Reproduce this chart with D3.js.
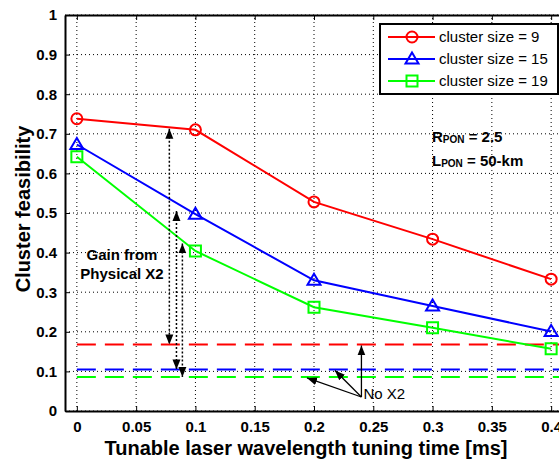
<!DOCTYPE html>
<html>
<head>
  <meta charset="utf8">
  <script src="https://d3js.org/d3.v7.min.js"></script>
  <style>
    body { margin: 0; background: #fff; }
    text { font-family: Arial, "Liberation Sans", sans-serif; }
    .tick text { font-weight: bold; font-size: 15px; fill: #000; }
  </style>
</head>
<body>
  <svg id="chart" width="559" height="461"></svg>
  <script>
    var times = [0, 0.1, 0.2, 0.3, 0.4];
    var size9 = [0.738, 0.710, 0.528, 0.434, 0.333];
    var size15 = [0.673, 0.497, 0.330, 0.265, 0.201];
    var size19 = [0.642, 0.404, 0.262, 0.210, 0.157];
    var noX2 = [0.168, 0.105, 0.086];
    var seriesNames = ['cluster size = 9', 'cluster size = 15', 'cluster size = 19'];
    var colors = ['#ff0000', '#0000ff', '#00ff00'];
    var markers = ['circle', 'triangle', 'square'];
    var xTicks = [0, 0.05, 0.1, 0.15, 0.2, 0.25, 0.3, 0.35, 0.4];
    var yTicks = [0, 0.1, 0.2, 0.3, 0.4, 0.5, 0.6, 0.7, 0.8, 0.9, 1];
    // gain arrows: x position, top value, bottom value
    var gainX = [0.078, 0.084, 0.089];
    var gainTop = [0.713, 0.505, 0.423];
    var gainBottom = [0.168, 0.105, 0.086];

    var series = [size9, size15, size19];
    var chart = d3.select('#chart');

    var x = d3.scaleLinear().domain([-0.01, 0.41]).range([65, 563]);
    var y = d3.scaleLinear().domain([0, 1]).range([411, 15]);

    var defs = chart.append('defs');
    defs.append('marker').attr('id', 'head').attr('viewBox', '0 0 10 10')
      .attr('refX', 10).attr('refY', 5).attr('markerWidth', 10).attr('markerHeight', 10)
      .attr('markerUnits', 'userSpaceOnUse').attr('orient', 'auto-start-reverse')
      .append('path').attr('d', 'M0,1 L10,5 L0,9 Z').attr('fill', '#000');

    // grid
    var grid = chart.append('g');
    grid.selectAll('line.v').data(xTicks).enter().append('line')
      .attr('x1', d => x(d)).attr('x2', d => x(d)).attr('y1', y(0)).attr('y2', y(1))
      .attr('stroke', '#000').attr('stroke-width', 1).attr('stroke-dasharray', '1,3');
    grid.selectAll('line.h').data(yTicks).enter().append('line')
      .attr('x1', x(-0.01)).attr('x2', 559).attr('y1', d => y(d)).attr('y2', d => y(d))
      .attr('stroke', '#000').attr('stroke-width', 1).attr('stroke-dasharray', '1,3');

    // no-X2 reference lines
    chart.selectAll('line.ref').data(noX2).enter().append('line')
      .attr('x1', x(0)).attr('x2', 559).attr('y1', d => y(d)).attr('y2', d => y(d))
      .attr('stroke', (d, i) => colors[i]).attr('stroke-width', 2)
      .attr('stroke-dasharray', '19,9');

    // axes
    chart.append('g').attr('transform', 'translate(0,' + y(0) + ')')
      .call(d3.axisBottom(x).tickValues(xTicks).tickSizeInner(-5).tickSizeOuter(0).tickPadding(10)
        .tickFormat(d3.format('')))
      .call(g => g.select('.domain').attr('stroke-width', 2));
    chart.append('g').attr('transform', 'translate(0,' + y(1) + ')')
      .call(d3.axisTop(x).tickValues(xTicks).tickSizeInner(-5).tickSizeOuter(0).tickFormat(''))
      .call(g => g.select('.domain').attr('stroke-width', 2));
    chart.append('g').attr('transform', 'translate(' + x(-0.01) + ',0)')
      .call(d3.axisLeft(y).tickValues(yTicks).tickSizeInner(-5).tickSizeOuter(0).tickPadding(8)
        .tickFormat(d3.format('')))
      .call(g => g.select('.domain').attr('stroke-width', 2));

    // data lines
    var line = d3.line().x((d, i) => x(times[i])).y(d => y(d));
    var sym = {
      circle: 'M5.5,0 A5.5,5.5 0 1,1 -5.5,0 A5.5,5.5 0 1,1 5.5,0 Z',
      triangle: 'M0,-6.5 L6.5,4.5 L-6.5,4.5 Z',
      square: 'M-5.5,-5.5 L5.5,-5.5 L5.5,5.5 L-5.5,5.5 Z'
    };
    series.forEach(function (s, k) {
      chart.append('path').datum(s).attr('d', line).attr('fill', 'none')
        .attr('stroke', colors[k]).attr('stroke-width', 2);
      chart.selectAll('path.m' + k).data(s).enter().append('path')
        .attr('transform', (d, i) => 'translate(' + x(times[i]) + ',' + y(d) + ')')
        .attr('d', sym[markers[k]]).attr('fill', 'none')
        .attr('stroke', colors[k]).attr('stroke-width', 2);
    });

    // gain arrows
    gainX.forEach(function (gx, i) {
      chart.append('line').attr('x1', x(gx)).attr('x2', x(gx))
        .attr('y1', y(gainTop[i])).attr('y2', y(gainBottom[i]))
        .attr('stroke', '#000').attr('stroke-width', 1.5).attr('stroke-dasharray', '2,2')
        .attr('marker-start', 'url(#head)').attr('marker-end', 'url(#head)');
    });
    chart.append('text').attr('x', 122).attr('y', 260).attr('text-anchor', 'middle')
      .attr('font-weight', 'bold').attr('font-size', 15).text('Gain from');
    chart.append('text').attr('x', 122).attr('y', 279).attr('text-anchor', 'middle')
      .attr('font-weight', 'bold').attr('font-size', 15).text('Physical X2');

    // No X2 arrows
    var nx = x(0.24), ny = 397;
    var noTargets = [[x(0.24), y(noX2[0])], [335, y(noX2[1])], [307, y(noX2[2])]];
    noTargets.forEach(function (t) {
      chart.append('line').attr('x1', nx).attr('y1', ny).attr('x2', t[0]).attr('y2', t[1] + 1)
        .attr('stroke', '#000').attr('stroke-width', 1.3).attr('marker-end', 'url(#head)');
    });
    chart.append('text').attr('x', nx + 2).attr('y', 399).attr('font-size', 15).text('No X2');

    // R_PON, L_PON
    var rt = chart.append('text').attr('x', 432).attr('y', 142).attr('font-weight', 'bold').attr('font-size', 15);
    rt.append('tspan').text('R');
    rt.append('tspan').attr('font-size', 10).attr('dy', 1).text('PON');
    rt.append('tspan').attr('dy', -1).text(' = 2.5');
    var lt = chart.append('text').attr('x', 432).attr('y', 166).attr('font-weight', 'bold').attr('font-size', 15);
    lt.append('tspan').text('L');
    lt.append('tspan').attr('font-size', 10).attr('dy', 1).text('PON');
    lt.append('tspan').attr('dy', -1).text(' = 50-km');

    // legend
    var lg = chart.append('g');
    lg.append('rect').attr('x', 380).attr('y', 24).attr('width', 178).attr('height', 70)
      .attr('fill', '#fff').attr('stroke', '#000').attr('stroke-width', 2);
    seriesNames.forEach(function (name, k) {
      var ly = 37 + k * 22;
      lg.append('line').attr('x1', 388).attr('x2', 435).attr('y1', ly).attr('y2', ly)
        .attr('stroke', colors[k]).attr('stroke-width', 2);
      lg.append('path').attr('transform', 'translate(412,' + ly + ')')
        .attr('d', sym[markers[k]]).attr('fill', 'none').attr('stroke', colors[k]).attr('stroke-width', 2);
      lg.append('text').attr('x', 439).attr('y', ly + 5).attr('font-size', 15).text(name);
    });

    // axis titles
    chart.append('text').attr('x', 306).attr('y', 455).attr('text-anchor', 'middle')
      .attr('font-weight', 'bold').attr('font-size', 20).text('Tunable laser wavelength tuning time [ms]');
    chart.append('text').attr('transform', 'translate(30,209) rotate(-90)').attr('text-anchor', 'middle')
      .attr('font-weight', 'bold').attr('font-size', 20).text('Cluster feasibility');
  </script>
</body>
</html>
